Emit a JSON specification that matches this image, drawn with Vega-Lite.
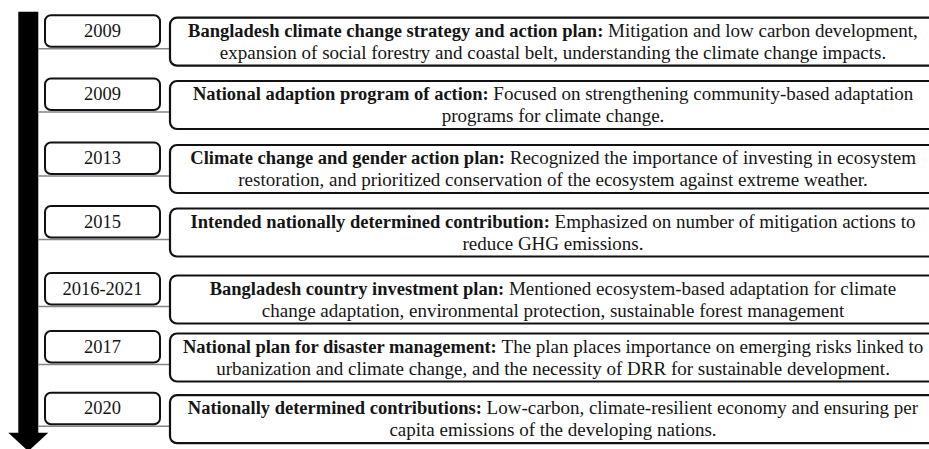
{
  "$schema": "https://vega.github.io/schema/vega-lite/v6.json",
  "width": 929,
  "height": 449,
  "padding": 0,
  "autosize": {"type": "none"},
  "background": "white",
  "config": {"view": {"stroke": null}},
  "data": {
    "values": [
      {"idx": 0, "year": "2009", "title": "Bangladesh climate change strategy and action plan:", "rest": "Mitigation and low carbon development,", "line2": "expansion of social forestry and coastal belt, understanding the climate change impacts.", "split": 603.3},
      {"idx": 1, "year": "2009", "title": "National adaption program of action:", "rest": "Focused on strengthening community-based adaptation", "line2": "programs for climate change.", "split": 488.6},
      {"idx": 2, "year": "2013", "title": "Climate change and gender action plan:", "rest": "Recognized the importance of investing in ecosystem", "line2": "restoration, and prioritized conservation of the ecosystem against extreme weather.", "split": 505.0},
      {"idx": 3, "year": "2015", "title": "Intended nationally determined contribution:", "rest": "Emphasized on number of mitigation actions to", "line2": "reduce GHG emissions.", "split": 549.8},
      {"idx": 4, "year": "2016-2021", "title": "Bangladesh country investment plan:", "rest": "Mentioned ecosystem-based adaptation for climate", "line2": "change adaptation, environmental protection, sustainable forest management", "split": 504.2},
      {"idx": 5, "year": "2017", "title": "National plan for disaster management:", "rest": "The plan places importance on emerging risks linked to", "line2": "urbanization and climate change, and the necessity of DRR for sustainable development.", "split": 496.8},
      {"idx": 6, "year": "2020", "title": "Nationally determined contributions:", "rest": "Low-carbon, climate-resilient economy and ensuring per", "line2": "capita emissions of the developing nations.", "split": 481.8}
    ]
  },
  "resolve": {"scale": {"y": "independent"}},
  "layer": [
    {
      "data": {"values": [{"part": "timeline arrow"}]},
      "layer": [
        {
          "mark": {"type": "rect", "color": "#000000"},
          "encoding": {
            "x": {"datum": 18.3, "type": "quantitative", "scale": {"domain": [0, 929], "range": [0, 929], "zero": false, "nice": false}, "axis": null},
            "x2": {"datum": 38.3},
            "y": {"datum": 11.7, "type": "quantitative", "scale": {"domain": [0, 449], "range": [0, 449], "zero": false, "nice": false}, "axis": null},
            "y2": {"datum": 434}
          }
        },
        {
          "mark": {"type": "point", "shape": "M -1 -0.425 L 1 -0.425 L 0 0.5 Z", "filled": true, "color": "#000000", "opacity": 1, "size": 1600, "strokeWidth": 0},
          "encoding": {
            "x": {"datum": 28.3, "type": "quantitative", "axis": null},
            "y": {"datum": 441.2, "type": "quantitative", "axis": null}
          }
        }
      ]
    },
    {
      "encoding": {
        "y": {"field": "idx", "type": "quantitative", "scale": {"domain": [0, 1, 2, 3, 4, 5, 6], "range": [41.7, 105, 169, 232.5, 299.5, 357.5, 419.2], "zero": false, "nice": false}, "axis": null}
      },
      "layer": [
        {
          "mark": {"type": "rule", "color": "#858585", "strokeWidth": 1.6, "yOffset": 7},
          "encoding": {
            "x": {"datum": 38.3, "type": "quantitative", "scale": {"domain": [0, 929], "range": [0, 929], "zero": false, "nice": false}, "axis": null},
            "x2": {"datum": 170}
          }
        },
        {
          "mark": {"type": "rect", "fill": "white", "stroke": "#111111", "strokeWidth": 2, "cornerRadius": 6, "yOffset": -26.5, "y2Offset": 5},
          "encoding": {
            "x": {"datum": 45, "type": "quantitative", "axis": null},
            "x2": {"datum": 160},
            "y2": {"field": "idx"}
          }
        },
        {
          "mark": {"type": "rect", "fill": "white", "stroke": "#111111", "strokeWidth": 2.2, "cornerRadius": 7, "yOffset": -24, "y2Offset": 24},
          "encoding": {
            "x": {"datum": 170, "type": "quantitative", "axis": null},
            "x2": {"datum": 990},
            "y2": {"field": "idx"}
          }
        },
        {
          "mark": {"type": "text", "font": "Liberation Serif", "fontSize": 18.5, "align": "center", "baseline": "middle", "color": "#151515", "yOffset": -10.8},
          "encoding": {
            "x": {"datum": 102.5, "type": "quantitative", "axis": null},
            "text": {"field": "year"}
          }
        },
        {
          "mark": {"type": "text", "font": "Liberation Serif", "fontSize": 18.5, "fontWeight": "bold", "align": "right", "baseline": "middle", "color": "#151515", "yOffset": -11},
          "encoding": {
            "x": {"field": "split", "type": "quantitative", "axis": null},
            "text": {"field": "title"}
          }
        },
        {
          "mark": {"type": "text", "font": "Liberation Serif", "fontSize": 19, "align": "left", "baseline": "middle", "color": "#151515", "yOffset": -11, "dx": 4.75},
          "encoding": {
            "x": {"field": "split", "type": "quantitative", "axis": null},
            "text": {"field": "rest"}
          }
        },
        {
          "mark": {"type": "text", "font": "Liberation Serif", "fontSize": 19, "align": "center", "baseline": "middle", "color": "#151515", "yOffset": 11},
          "encoding": {
            "x": {"datum": 553, "type": "quantitative", "axis": null},
            "text": {"field": "line2"}
          }
        }
      ]
    }
  ]
}
